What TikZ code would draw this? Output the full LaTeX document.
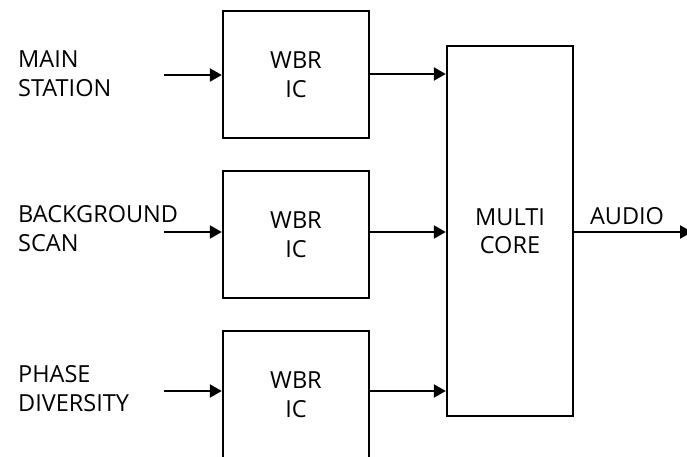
\documentclass[tikz,border=0pt]{standalone}
\usepackage{fontspec}
\setmainfont{Open Sans}
\usetikzlibrary{arrows.meta}
\begin{document}
\begin{tikzpicture}[x=1pt,y=-1pt,
  txt/.style={font=\fontsize{23.5}{28.5}\selectfont},
  box/.style={txt,draw,line width=2.4pt,minimum width=146pt,minimum height=127pt,inner sep=0pt,align=center},
  lbl/.style={txt,inner sep=0pt,align=left,anchor=west},
  arr/.style={line width=2.4pt,-{Triangle[length=12pt,width=13pt]}}]
\useasboundingbox (0,0) rectangle (687,457);
\node[box] (b1) at (296,74.5) {WBR\\IC};
\node[box] (b2) at (296,234.5) {WBR\\IC};
\node[box] (b3) at (296,394.5) {WBR\\IC};
\node[box,minimum width=126pt,minimum height=370pt] (mc) at (510,231) {MULTI\\CORE};
\node[lbl] (l1) at (18,73.5) {MAIN\\STATION};
\node[lbl] (l2) at (18,228.5) {BACKGROUND\\SCAN};
\node[lbl] (l3) at (18,388.5) {PHASE\\DIVERSITY};
\node[txt,inner sep=0pt] (au) at (627,216.5) {AUDIO};
\coordinate (s1) at (164,75);
\coordinate (s2) at (164,232);
\coordinate (s3) at (164,391);
\coordinate (r1) at (369,74);
\coordinate (r2) at (369,232);
\coordinate (r3) at (369,391);
\coordinate (out) at (692,232);
\draw[arr] (s1) -- (s1 -| b1.west);
\draw[arr] (s2) -- (s2 -| b2.west);
\draw[arr] (s3) -- (s3 -| b3.west);
\draw[arr] (r1) -- (r1 -| mc.west);
\draw[arr] (r2) -- (r2 -| mc.west);
\draw[arr] (r3) -- (r3 -| mc.west);
\draw[arr] (r2 -| mc.east) -- (out);
\end{tikzpicture}
\end{document}
